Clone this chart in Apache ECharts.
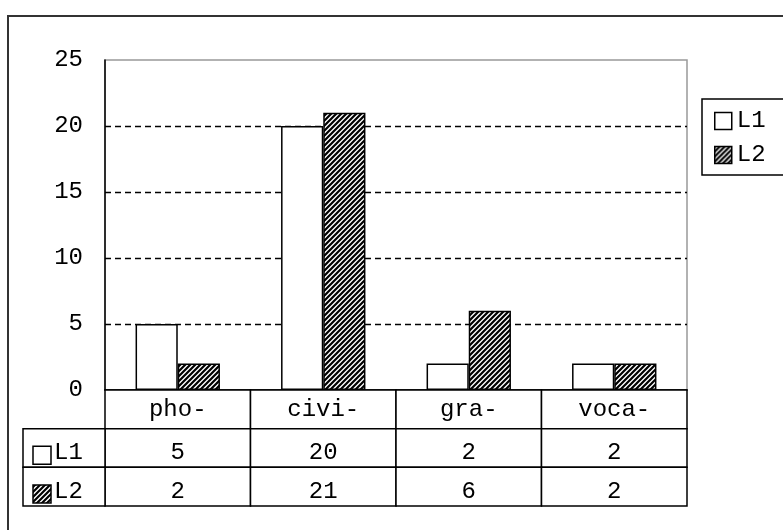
<!DOCTYPE html>
<html>
<head>
<meta charset="utf-8">
<script src="https://cdn.jsdelivr.net/npm/echarts@6/dist/echarts.min.js"></script>
<style>
html,body{margin:0;padding:0;background:#fff;}
#chart{width:783px;height:530px;}
</style>
</head>
<body>
<div id="chart"></div>
<script>
const categories = ['pho-', 'civi-', 'gra-', 'voca-'];
const seriesNames = ['L1', 'L2'];
const valuesL1 = [5, 20, 2, 2];
const valuesL2 = [2, 21, 6, 2];
const yTicks = { min: 0, max: 25, interval: 5 };

const FONT = 'Liberation Mono';
const FS = 24;
const HEAD_W = 82;

function makeHatch() {
  const n = 5;
  const c = document.createElement('canvas');
  c.width = n; c.height = n;
  const g = c.getContext('2d');
  g.fillStyle = '#fff'; g.fillRect(0, 0, n, n);
  g.strokeStyle = '#000'; g.lineWidth = 2.2;
  g.beginPath();
  g.moveTo(-1, n + 1); g.lineTo(n + 1, -1);
  g.moveTo(-1, 1); g.lineTo(1, -1);
  g.moveTo(n - 1, n + 1); g.lineTo(n + 1, n - 1);
  g.stroke();
  return c;
}
const hatch = { image: makeHatch(), repeat: 'repeat' };
const fills = ['#fff', hatch];

// table cells: [catIndex, rowIndex]
const rowNames = ['cat', 'L1', 'L2'];
const cellData = [];
const cellText = [];
const cellKind = [];
categories.forEach((c, i) => { cellData.push([i, 0]); cellText.push(c); cellKind.push('cat'); });
[valuesL1, valuesL2].forEach((arr, r) => {
  arr.forEach((v, i) => { cellData.push([i, r + 1]); cellText.push(String(v)); cellKind.push('val'); });
  cellData.push([0, r + 1]); cellText.push(seriesNames[r]); cellKind.push('head' + r);
});

const chart = echarts.init(document.getElementById('chart'), null, { renderer: 'canvas' });
chart.setOption({
  backgroundColor: '#fff',
  animation: false,
  graphic: [{
    type: 'polyline', z: -10,
    shape: { points: [[8, 560], [8, 16], [800, 16]] },
    style: { fill: null, stroke: '#333', lineWidth: 2 }
  }, {
    type: 'polyline', z: -5,
    shape: { points: [[800, 99], [702, 99], [702, 175], [800, 175]] },
    style: { fill: null, stroke: '#000', lineWidth: 1.5 }
  }],
  legend: {
    data: seriesNames,
    orient: 'vertical',
    left: 702, top: 99,
    icon: 'rect',
    itemWidth: 17, itemHeight: 17,
    itemGap: 10,
    padding: [10, 10, 8, 12],
    borderWidth: 0,
    itemStyle: { borderColor: '#000', borderWidth: 1.5 },
    textStyle: { fontFamily: FONT, fontSize: FS, color: '#000', lineHeight: 24 }
  },
  grid: [
    { left: 105, right: 96, top: 60, bottom: 140, show: true, borderColor: '#999', borderWidth: 1.5 },
    { left: 105, right: 96, top: 390, height: 116 }
  ],
  xAxis: [
    { type: 'category', gridIndex: 0, data: categories,
      axisLine: { lineStyle: { color: '#000', width: 1.5 } },
      axisTick: { show: false }, axisLabel: { show: false } },
    { type: 'category', gridIndex: 1, data: categories, show: false }
  ],
  yAxis: [
    { type: 'value', gridIndex: 0, min: yTicks.min, max: yTicks.max, interval: yTicks.interval,
      axisLine: { show: true, lineStyle: { color: '#000', width: 1.5 } },
      axisTick: { show: false },
      axisLabel: { fontFamily: FONT, fontSize: FS, color: '#000', margin: 22 },
      splitLine: { show: true, showMaxLine: false, showMinLine: false,
        lineStyle: { color: '#000', width: 1.3, type: [6, 4] } } },
    { type: 'category', gridIndex: 1, data: rowNames, inverse: true, show: false }
  ],
  series: [
    { name: 'L1', type: 'bar', data: valuesL1, barGap: '0%', barCategoryGap: '42%',
      itemStyle: { color: fills[0], borderColor: '#000', borderWidth: 1.5 } },
    { name: 'L2', type: 'bar', data: valuesL2, barGap: '0%', barCategoryGap: '42%',
      itemStyle: { color: fills[1], borderColor: '#000', borderWidth: 1.5 } },
    { type: 'custom', xAxisIndex: 1, yAxisIndex: 1, data: cellData, clip: false, silent: true,
      renderItem: function (params, api) {
        const c = api.coord([api.value(0), api.value(1)]);
        const s = api.size([1, 1]);
        const kind = cellKind[params.dataIndex];
        let x0 = c[0] - s[0] / 2, y0 = c[1] - s[1] / 2, w = s[0], h = s[1];
        const children = [];
        if (kind.indexOf('head') === 0) {
          const r = +kind.slice(4);
          x0 = x0 - HEAD_W; w = HEAD_W;
          children.push({ type: 'rect', shape: { x: x0, y: y0, width: w, height: h },
            style: { fill: '#fff', stroke: '#000', lineWidth: 1.5 } });
          children.push({ type: 'rect', shape: { x: x0 + 10, y: y0 + h - 21, width: 18, height: 18 },
            style: { fill: fills[r], stroke: '#000', lineWidth: 1.5 } });
          children.push({ type: 'text', style: { text: cellText[params.dataIndex], x: x0 + 31, y: y0 + h / 2 + 5,
            fontFamily: FONT, fontSize: FS, fill: '#000', align: 'left', verticalAlign: 'middle' } });
        } else {
          children.push({ type: 'rect', shape: { x: x0, y: y0, width: w, height: h },
            style: { fill: '#fff', stroke: '#000', lineWidth: 1.5 } });
          children.push({ type: 'text', style: { text: cellText[params.dataIndex], x: c[0],
            y: c[1] + (kind === 'cat' ? 0 : 5),
            fontFamily: FONT, fontSize: FS, fill: '#000', align: 'center', verticalAlign: 'middle' } });
        }
        return { type: 'group', children: children };
      } }
  ]
});
</script>
</body>
</html>
